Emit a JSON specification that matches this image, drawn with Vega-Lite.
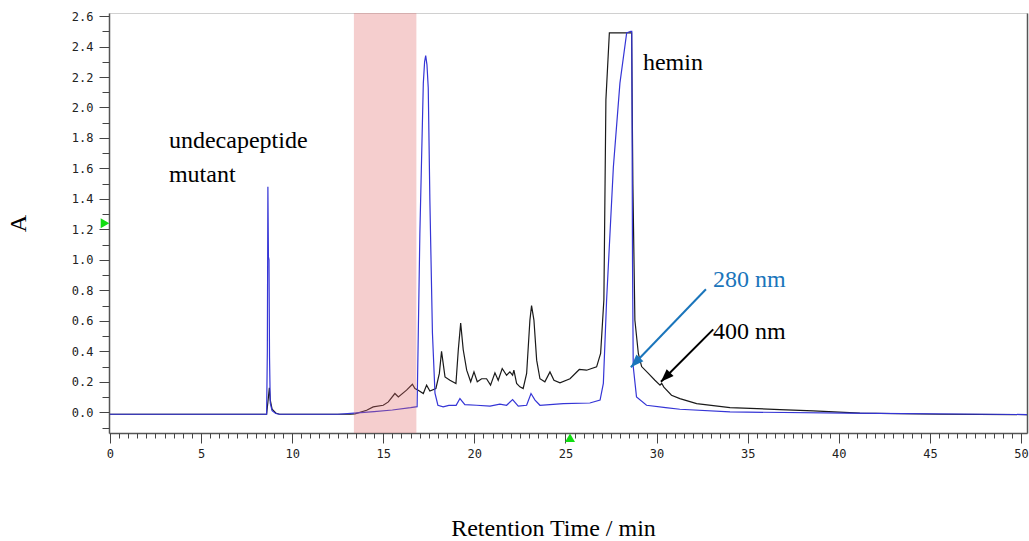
{
  "$schema": "https://vega.github.io/schema/vega-lite/v6.json",
  "width": 918,
  "height": 420,
  "autosize": {"type": "none"},
  "padding": {"left": 109, "top": 13, "right": 2, "bottom": 108},
  "background": "white",
  "config": {"view": {"stroke": "#d0d0d0", "strokeWidth": 1}, "axis": {"grid": false}},
  "resolve": {"axis": {"x": "independent", "y": "independent"}},
  "datasets": {
    "trace400": [
      {"t":0,"A":-0.013},{"t":8.6,"A":-0.013},{"t":8.7,"A":0.1},{"t":8.75,"A":0.16},{"t":8.8,"A":0.08},{"t":8.9,"A":0.02},{"t":9.1,"A":-0.005},{"t":9.3,"A":-0.013},{"t":13.2,"A":-0.013},{"t":13.45,"A":-0.01},{"t":14.09,"A":0.013},{"t":14.45,"A":0.035},{"t":15.0,"A":0.046},{"t":15.28,"A":0.068},{"t":15.64,"A":0.123},{"t":15.83,"A":0.1},{"t":16.28,"A":0.145},{"t":16.6,"A":0.184},{"t":16.74,"A":0.156},{"t":16.92,"A":0.145},{"t":17.2,"A":0.123},{"t":17.38,"A":0.178},{"t":17.56,"A":0.14},{"t":17.89,"A":0.156},{"t":18.08,"A":0.255},{"t":18.2,"A":0.4},{"t":18.39,"A":0.232},{"t":18.66,"A":0.21},{"t":18.99,"A":0.189},{"t":19.12,"A":0.41},{"t":19.25,"A":0.585},{"t":19.39,"A":0.41},{"t":19.58,"A":0.276},{"t":19.8,"A":0.2},{"t":19.98,"A":0.265},{"t":20.16,"A":0.2},{"t":20.4,"A":0.22},{"t":20.67,"A":0.22},{"t":20.89,"A":0.178},{"t":21.13,"A":0.259},{"t":21.31,"A":0.21},{"t":21.53,"A":0.287},{"t":21.77,"A":0.243},{"t":21.95,"A":0.265},{"t":22.1,"A":0.243},{"t":22.17,"A":0.276},{"t":22.32,"A":0.189},{"t":22.5,"A":0.167},{"t":22.68,"A":0.156},{"t":22.87,"A":0.255},{"t":23.05,"A":0.605},{"t":23.14,"A":0.7},{"t":23.27,"A":0.605},{"t":23.42,"A":0.342},{"t":23.6,"A":0.22},{"t":23.87,"A":0.2},{"t":24.15,"A":0.265},{"t":24.37,"A":0.21},{"t":24.7,"A":0.193},{"t":25.25,"A":0.22},{"t":25.76,"A":0.281},{"t":26.16,"A":0.276},{"t":26.71,"A":0.298},{"t":26.93,"A":0.386},{"t":27.11,"A":0.74},{"t":27.22,"A":2.05},{"t":27.41,"A":2.49},{"t":28.63,"A":2.49},{"t":28.7,"A":1.5},{"t":28.81,"A":0.605},{"t":29.0,"A":0.386},{"t":29.18,"A":0.3},{"t":29.55,"A":0.255},{"t":29.91,"A":0.21},{"t":30.19,"A":0.178},{"t":30.28,"A":0.19},{"t":30.4,"A":0.165},{"t":30.82,"A":0.112},{"t":31.28,"A":0.09},{"t":32.2,"A":0.057},{"t":34.03,"A":0.031},{"t":36.77,"A":0.018},{"t":38.6,"A":0.009},{"t":41.16,"A":-0.005},{"t":45.55,"A":-0.013},{"t":50.33,"A":-0.015}
    ],
    "trace280": [
      {"t":0,"A":-0.013},{"t":8.6,"A":-0.013},{"t":8.64,"A":0.4},{"t":8.67,"A":1.48},{"t":8.7,"A":1.02},{"t":8.73,"A":1.0},{"t":8.76,"A":0.36},{"t":8.8,"A":0.06},{"t":8.9,"A":0.01},{"t":9.1,"A":-0.008},{"t":9.3,"A":-0.013},{"t":12.5,"A":-0.013},{"t":13.4,"A":-0.006},{"t":14.5,"A":0.004},{"t":15.5,"A":0.015},{"t":16.5,"A":0.03},{"t":16.86,"A":0.037},{"t":17.01,"A":1.17},{"t":17.2,"A":2.16},{"t":17.27,"A":2.3},{"t":17.33,"A":2.34},{"t":17.4,"A":2.28},{"t":17.47,"A":2.13},{"t":17.56,"A":1.39},{"t":17.7,"A":0.52},{"t":17.84,"A":0.125},{"t":18.0,"A":0.046},{"t":18.29,"A":0.035},{"t":18.6,"A":0.045},{"t":19.0,"A":0.045},{"t":19.21,"A":0.09},{"t":19.48,"A":0.05},{"t":20.12,"A":0.046},{"t":20.86,"A":0.04},{"t":21.4,"A":0.053},{"t":21.77,"A":0.046},{"t":22.1,"A":0.083},{"t":22.41,"A":0.04},{"t":22.87,"A":0.046},{"t":23.11,"A":0.123},{"t":23.33,"A":0.08},{"t":23.6,"A":0.046},{"t":24.88,"A":0.057},{"t":26.34,"A":0.061},{"t":26.9,"A":0.08},{"t":27.08,"A":0.19},{"t":27.26,"A":0.74},{"t":27.63,"A":1.61},{"t":27.99,"A":2.16},{"t":28.36,"A":2.49},{"t":28.58,"A":2.5},{"t":28.64,"A":2.5},{"t":28.68,"A":1.0},{"t":28.72,"A":0.3},{"t":28.9,"A":0.1},{"t":29.45,"A":0.046},{"t":30.5,"A":0.03},{"t":31.28,"A":0.02},{"t":34.03,"A":0.002},{"t":40.4,"A":-0.005},{"t":50.33,"A":-0.015}
    ],
    "band": [{"start": 13.39, "end": 16.82}],
    "notesBlack": [
      {"t":3.24,"A":1.731,"label":"undecapeptide"},
      {"t":3.24,"A":1.512,"label":"mutant"},
      {"t":29.25,"A":2.245,"label":"hemin"},
      {"t":33.1,"A":0.479,"label":"400 nm"}
    ],
    "notesBlue": [{"t":33.1,"A":0.824,"label":"280 nm"}],
    "arrowBlue": [{"t":32.71,"A":0.807,"t2":28.59,"A2":0.295}],
    "arrowBlack": [{"t":33.11,"A":0.544,"t2":30.24,"A2":0.2}],
    "markerY": [{"t":-0.27,"A":1.241}],
    "markerX": [{"t":25.25,"A":-0.167}]
  },
  "layer": [
    {
      "data": {"name": "trace400"},
      "mark": {"type": "line", "color": "#1a1a1a", "strokeWidth": 1.2},
      "encoding": {
        "x": {"field": "t", "type": "quantitative", "scale": {"domain": [-0.05, 50.33], "nice": false, "zero": false},
          "axis": {"values": [0,5,10,15,20,25,30,35,40,45,50], "format": "d", "orient": "bottom", "title": "Retention Time / min",
            "titleFont": "Liberation Serif", "titleFontSize": 24, "titleFontWeight": "normal", "titleColor": "#000",
            "titleX": 444, "titleY": 102, "titleBaseline": "alphabetic", "titleAlign": "center",
            "labelFont": "DejaVu Sans Mono", "labelFontSize": 12, "labelColor": "#222", "labelPadding": 5,
            "labelFlush": false, "labelOverlap": false, "tickSize": 10, "tickColor": "#444", "domainColor": "#555", "domainWidth": 1.5, "grid": false}},
        "y": {"field": "A", "type": "quantitative", "scale": {"domain": [-0.136, 2.62], "nice": false, "zero": false},
          "axis": {"values": [0,0.2,0.4,0.6,0.8,1.0,1.2,1.4,1.6,1.8,2.0,2.2,2.4,2.6], "format": ".1f", "orient": "left", "title": "A",
            "titleFont": "Liberation Serif", "titleFontSize": 24, "titleFontWeight": "normal", "titleColor": "#000",
            "titleAngle": -90, "titleX": -91, "titleY": 210, "titleBaseline": "middle", "titleAlign": "center",
            "labelFont": "DejaVu Sans Mono", "labelFontSize": 12, "labelColor": "#222", "labelPadding": 6,
            "labelFlush": false, "labelOverlap": false, "tickSize": 10, "tickColor": "#444", "domainColor": "#555", "domainWidth": 1.5, "grid": false}}
      }
    },
    {
      "data": {"name": "trace280"},
      "mark": {"type": "line", "color": "#3535d6", "strokeWidth": 1.2},
      "encoding": {
        "x": {"field": "t", "type": "quantitative", "scale": {"domain": [-0.05, 50.33], "nice": false, "zero": false}, "axis": null},
        "y": {"field": "A", "type": "quantitative", "scale": {"domain": [-0.136, 2.62], "nice": false, "zero": false}, "axis": null}
      }
    },
    {
      "data": {"name": "band"},
      "mark": {"type": "rect", "color": "#e06666", "opacity": 0.32},
      "encoding": {
        "x": {"field": "start", "type": "quantitative", "scale": {"domain": [-0.05, 50.33], "nice": false, "zero": false}, "axis": null},
        "x2": {"field": "end"}
      }
    },
    {
      "data": {"name": "arrowBlue"},
      "mark": {"type": "rule", "color": "#1a75bb", "strokeWidth": 2},
      "encoding": {
        "x": {"field": "t", "type": "quantitative", "scale": {"domain": [-0.05, 50.33], "nice": false, "zero": false}, "axis": null},
        "y": {"field": "A", "type": "quantitative", "scale": {"domain": [-0.136, 2.62], "nice": false, "zero": false}, "axis": null},
        "x2": {"field": "t2"},
        "y2": {"field": "A2"}
      }
    },
    {
      "data": {"name": "arrowBlue"},
      "mark": {"type": "point", "shape": "M0,0 L-0.75,2 L0.75,2 Z", "filled": true, "color": "#1a75bb", "opacity": 1, "size": 169, "angle": 224},
      "encoding": {
        "x": {"field": "t2", "type": "quantitative", "scale": {"domain": [-0.05, 50.33], "nice": false, "zero": false}, "axis": null},
        "y": {"field": "A2", "type": "quantitative", "scale": {"domain": [-0.136, 2.62], "nice": false, "zero": false}, "axis": null}
      }
    },
    {
      "data": {"name": "arrowBlack"},
      "mark": {"type": "rule", "color": "#000000", "strokeWidth": 2},
      "encoding": {
        "x": {"field": "t", "type": "quantitative", "scale": {"domain": [-0.05, 50.33], "nice": false, "zero": false}, "axis": null},
        "y": {"field": "A", "type": "quantitative", "scale": {"domain": [-0.136, 2.62], "nice": false, "zero": false}, "axis": null},
        "x2": {"field": "t2"},
        "y2": {"field": "A2"}
      }
    },
    {
      "data": {"name": "arrowBlack"},
      "mark": {"type": "point", "shape": "M0,0 L-0.75,2 L0.75,2 Z", "filled": true, "color": "#000000", "opacity": 1, "size": 169, "angle": 225},
      "encoding": {
        "x": {"field": "t2", "type": "quantitative", "scale": {"domain": [-0.05, 50.33], "nice": false, "zero": false}, "axis": null},
        "y": {"field": "A2", "type": "quantitative", "scale": {"domain": [-0.136, 2.62], "nice": false, "zero": false}, "axis": null}
      }
    },
    {
      "data": {"name": "notesBlack"},
      "mark": {"type": "text", "align": "left", "baseline": "alphabetic", "font": "Liberation Serif", "fontSize": 24, "color": "#000000"},
      "encoding": {
        "x": {"field": "t", "type": "quantitative", "scale": {"domain": [-0.05, 50.33], "nice": false, "zero": false}, "axis": null},
        "y": {"field": "A", "type": "quantitative", "scale": {"domain": [-0.136, 2.62], "nice": false, "zero": false}, "axis": null},
        "text": {"field": "label"}
      }
    },
    {
      "data": {"name": "notesBlue"},
      "mark": {"type": "text", "align": "left", "baseline": "alphabetic", "font": "Liberation Serif", "fontSize": 24, "color": "#1a75bb"},
      "encoding": {
        "x": {"field": "t", "type": "quantitative", "scale": {"domain": [-0.05, 50.33], "nice": false, "zero": false}, "axis": null},
        "y": {"field": "A", "type": "quantitative", "scale": {"domain": [-0.136, 2.62], "nice": false, "zero": false}, "axis": null},
        "text": {"field": "label"}
      }
    },
    {
      "data": {"name": "markerY"},
      "mark": {"type": "point", "shape": "triangle-right", "filled": true, "color": "#11dd11", "opacity": 1, "size": 100},
      "encoding": {
        "x": {"field": "t", "type": "quantitative", "scale": {"domain": [-0.05, 50.33], "nice": false, "zero": false}, "axis": null},
        "y": {"field": "A", "type": "quantitative", "scale": {"domain": [-0.136, 2.62], "nice": false, "zero": false}, "axis": null}
      }
    },
    {
      "data": {"name": "markerX"},
      "mark": {"type": "point", "shape": "triangle-up", "filled": true, "color": "#11dd11", "opacity": 1, "size": 100},
      "encoding": {
        "x": {"field": "t", "type": "quantitative", "scale": {"domain": [-0.05, 50.33], "nice": false, "zero": false}, "axis": null},
        "y": {"field": "A", "type": "quantitative", "scale": {"domain": [-0.136, 2.62], "nice": false, "zero": false}, "axis": null}
      }
    },
    {
      "data": {"name": "trace400"},
      "mark": {"type": "line", "opacity": 0},
      "encoding": {
        "x": {"field": "t", "type": "quantitative", "scale": {"domain": [-0.05, 50.33], "nice": false, "zero": false},
          "axis": {"values": [0,0.5,1,1.5,2,2.5,3,3.5,4,4.5,5,5.5,6,6.5,7,7.5,8,8.5,9,9.5,10,10.5,11,11.5,12,12.5,13,13.5,14,14.5,15,15.5,16,16.5,17,17.5,18,18.5,19,19.5,20,20.5,21,21.5,22,22.5,23,23.5,24,24.5,25,25.5,26,26.5,27,27.5,28,28.5,29,29.5,30,30.5,31,31.5,32,32.5,33,33.5,34,34.5,35,35.5,36,36.5,37,37.5,38,38.5,39,39.5,40,40.5,41,41.5,42,42.5,43,43.5,44,44.5,45,45.5,46,46.5,47,47.5,48,48.5,49,49.5,50],
            "orient": "bottom", "labels": false, "domain": false, "title": null, "tickSize": 5, "tickColor": "#444", "grid": false}},
        "y": {"field": "A", "type": "quantitative", "scale": {"domain": [-0.136, 2.62], "nice": false, "zero": false},
          "axis": {"values": [-0.1,0,0.1,0.2,0.3,0.4,0.5,0.6,0.7,0.8,0.9,1.0,1.1,1.2,1.3,1.4,1.5,1.6,1.7,1.8,1.9,2.0,2.1,2.2,2.3,2.4,2.5,2.6],
            "orient": "left", "labels": false, "domain": false, "title": null, "tickSize": 7, "tickColor": "#444", "grid": false}}
      }
    },
    {
      "data": {"name": "trace400"},
      "mark": {"type": "line", "opacity": 0},
      "encoding": {
        "x": {"field": "t", "type": "quantitative", "scale": {"domain": [-0.05, 50.33], "nice": false, "zero": false}, "axis": null},
        "y": {"field": "A", "type": "quantitative", "scale": {"domain": [-0.136, 2.62], "nice": false, "zero": false},
          "axis": {"orient": "right", "labels": false, "ticks": false, "domain": true, "domainColor": "#555", "domainWidth": 1.5, "title": null, "grid": false}}
      }
    }
  ]
}
